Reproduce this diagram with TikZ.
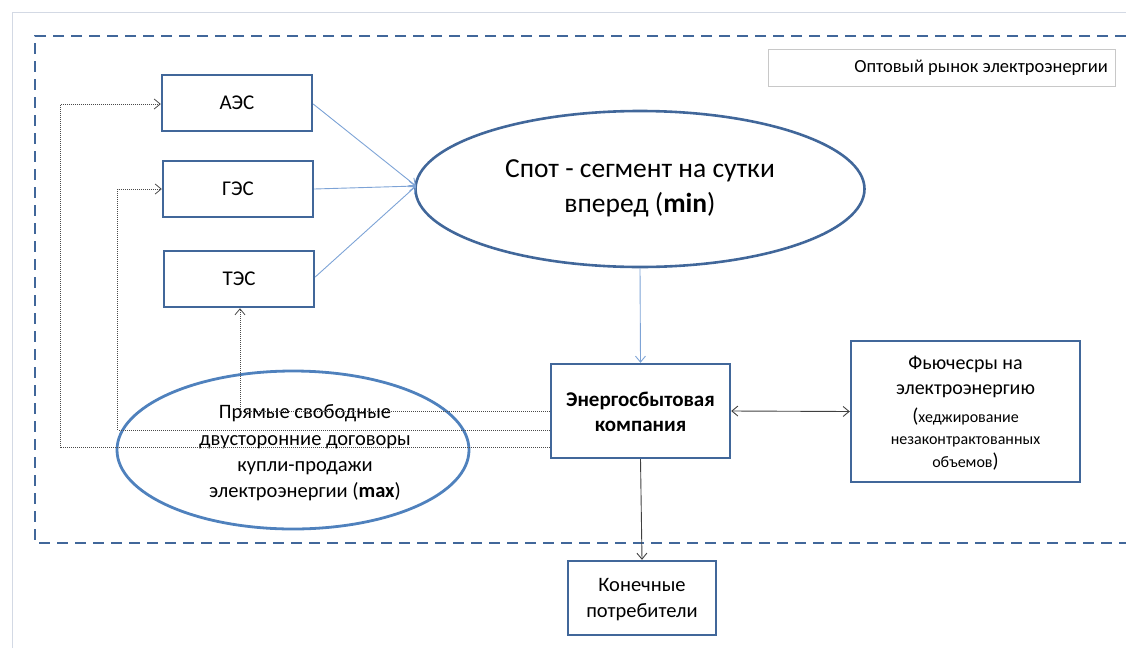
\documentclass[tikz,border=0pt]{standalone}
\usepackage{fontspec}
\setmainfont{Carlito}
\usetikzlibrary{arrows.meta,shapes.geometric,calc}
\definecolor{boxblue}{HTML}{41679A}
\definecolor{ellblue}{HTML}{4F81BD}
\definecolor{arrblue}{HTML}{7DA3D6}
\definecolor{framegray}{HTML}{D3D9E4}
\definecolor{labgray}{HTML}{C8C8C8}
\definecolor{dotgray}{HTML}{4A4A4A}
\begin{document}
\begin{tikzpicture}[x=1pt,y=-1pt,
  plant/.style={draw=boxblue, line width=2.4pt, minimum width=150pt, minimum height=56pt, inner sep=0pt, font=\fontsize{21}{24}\selectfont},
  mainbox/.style={draw=boxblue, line width=2.4pt, inner sep=0pt},
  txt/.style={align=center, inner sep=0pt},
  bluearr/.style={draw=arrblue, line width=0.9pt, -{Straight Barb[length=6pt,width=10pt]}},
  blackarr/.style={draw=black!75, line width=0.9pt, -{Straight Barb[length=6pt,width=10pt]}},
  dblarr/.style={draw=black!75, line width=0.9pt, {Straight Barb[length=6pt,width=10pt]}-{Straight Barb[length=6pt,width=10pt]}},
  dotarr/.style={draw=dotgray, line width=0.8pt, dash pattern=on 1pt off 1pt, -{Straight Barb[length=6pt,width=10pt]}}
]
\useasboundingbox (0,0) rectangle (1126,648);
% outer frame
\draw[framegray, line width=1pt] (12,648) -- (12,12) -- (1126,12);
% dashed market frame
\draw[boxblue, line width=2.8pt, dash pattern=on 11pt off 7pt] (1126,36) -- (35,36) -- (35,543) -- (1126,543);
% label box
\node[draw=labgray, line width=0.9pt, minimum width=347pt, minimum height=37pt, inner sep=0pt] (lab) at (942,67.5) {};
\node[txt, anchor=east, font=\fontsize{18.5}{22}\selectfont] (labt) at (1108,68) {Оптовый рынок электроэнергии};
% plants
\node[plant] (A) at (237,103) {АЭС};
\node[plant] (G) at (238,189) {ГЭС};
\node[plant] (T) at (239,279) {ТЭС};
% spot ellipse
\node[ellipse, draw=boxblue, line width=2.6pt, minimum width=449pt, minimum height=156pt, inner sep=0pt] (S) at (640,189) {};
\node[txt, font=\fontsize{27.5}{35}\selectfont] (St) at (640,188) {Спот - сегмент на сутки\\вперед (\textbf{min})};
% energy sales company
\node[mainbox, minimum width=179pt, minimum height=94pt] (E) at (640.5,411) {};
\node[txt, font=\fontsize{21}{25}\selectfont\bfseries] (Et) at (640.5,412) {Энергосбытовая\\компания};
% futures
\node[mainbox, minimum width=229pt, minimum height=141pt] (F) at (965.5,411.5) {};
\node[txt, font=\fontsize{20}{25.5}\selectfont] (Ft1) at (965.5,377) {Фьючесры на\\электроэнергию};
\node[txt, font=\fontsize{16}{22.5}\selectfont] (Ft2) at (965.5,439) {{\fontsize{20}{22}\selectfont(}хеджирование\\незаконтрактованных\\объемов{\fontsize{20}{22}\selectfont)}};
% consumers
\node[mainbox, minimum width=148pt, minimum height=74pt] (K) at (642,598) {};
\node[txt, font=\fontsize{20.5}{26}\selectfont] (Kt) at (642,600) {Конечные\\потребители};
% contracts ellipse
\node[ellipse, draw=ellblue, line width=2.8pt, minimum width=352pt, minimum height=158pt, inner sep=0pt] (C) at (293,450) {};
\node[txt, font=\fontsize{20.5}{26.3}\selectfont] (Ct) at (305,453) {Прямые свободные\\двусторонние договоры\\купли-продажи\\электроэнергии (\textbf{max})};
% arrows plants -> spot
\coordinate (Sin) at (416,186);
\draw[bluearr] ([yshift=-1pt]A.east) -- (Sin);
\draw[bluearr] (G.east) -- (Sin);
\draw[bluearr] ([yshift=2pt]T.east) -- (Sin);
% spot -> company
\draw[bluearr] (S.south) -- (E.north);
% company -> consumers
\draw[blackarr] (E.south) -- (K.north);
% company <-> futures
\draw[dblarr] (E.east) -- (F.west);
% dotted return routes
\draw[dotarr] (E.west) -| ([xshift=1pt]T.south);
\draw[dotarr] ([yshift=-19pt]E.west) -- ++(-432,0) |- (G.west);
\draw[dotarr] ([yshift=-36pt]E.west) -- ++(-489,0) |- ([yshift=-1pt]A.west);
\end{tikzpicture}
\end{document}
